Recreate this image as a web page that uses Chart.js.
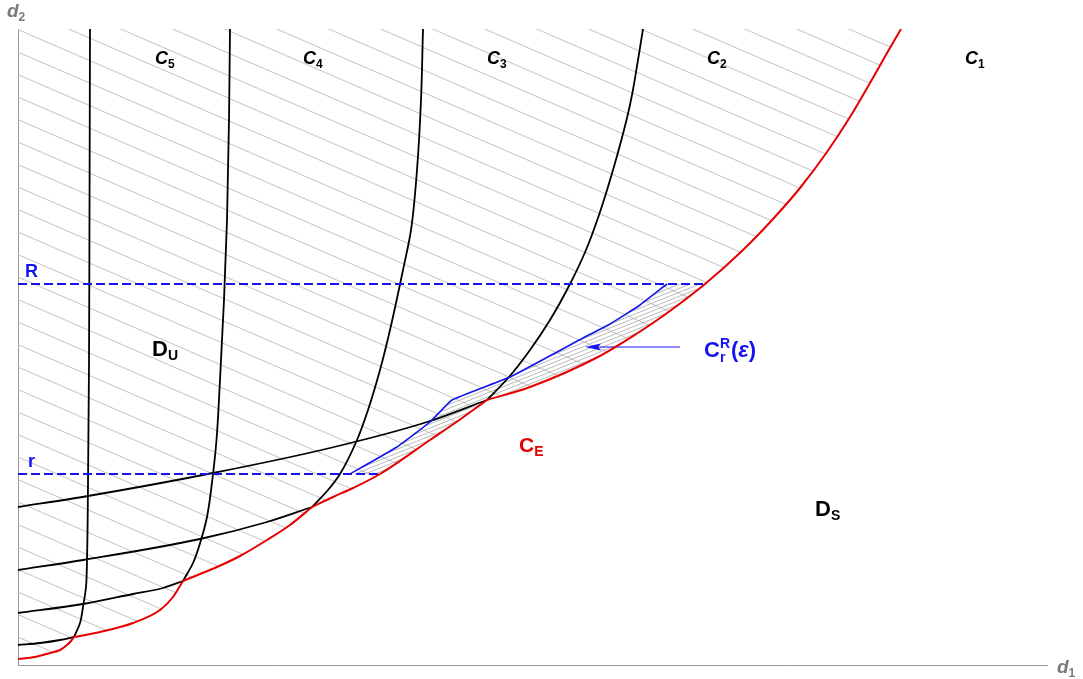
<!DOCTYPE html>
<html>
<head>
<meta charset="utf-8">
<script src="https://cdn.jsdelivr.net/npm/chart.js@4.4.1/dist/chart.umd.min.js"></script>
<style>
  html, body { margin: 0; padding: 0; background: #fff; }
  #wrap { width: 1083px; height: 679px; }
</style>
</head>
<body>
<div id="wrap"><canvas id="plane" width="1083" height="679"></canvas></div>
<script>
// boundary C_E between the stable and unstable domains
const ceCurve = [
  [0, 0.06], [0.17, 0.08], [0.32, 0.12], [0.42, 0.15], [0.49, 0.20], [0.53, 0.24], [0.56, 0.28],
  [0.82, 0.33], [1.15, 0.42], [1.42, 0.55], [1.55, 0.68], [1.65, 0.84],
  [1.82, 0.91], [1.99, 0.98], [2.22, 1.09], [2.49, 1.25], [2.72, 1.40], [2.94, 1.58],
  [3.15, 1.68], [3.35, 1.77], [3.62, 1.91], [4.12, 2.25], [4.42, 2.455], [4.69, 2.65],
  [5.12, 2.78], [5.79, 3.075], [6.19, 3.315], [6.45, 3.49], [6.87, 3.81],
  [7.25, 4.15], [7.55, 4.46], [7.82, 4.77], [8.09, 5.13], [8.32, 5.48], [8.52, 5.82], [8.69, 6.12], [8.83, 6.36]
];
// corners of C_E where a branch joins it
const ceKinks = [0.56, 1.65, 2.94, 4.69];

// near-vertical branches C5..C2
const c5 = [[0.72, 6.36], [0.715, 4.5], [0.71, 3.0], [0.70, 1.8], [0.69, 1.05], [0.68, 0.78], [0.65, 0.58], [0.62, 0.42], [0.56, 0.28]];
const c4 = [[2.12, 6.36], [2.11, 5.45], [2.09, 4.45], [2.06, 3.65], [2.02, 2.85], [1.985, 2.25], [1.95, 1.91], [1.89, 1.48], [1.83, 1.25], [1.75, 1.02], [1.65, 0.84]];
const c3 = [[4.05, 6.36], [4.03, 5.65], [3.99, 4.95], [3.93, 4.35], [3.85, 3.95], [3.72, 3.35], [3.62, 2.95], [3.50, 2.55], [3.39, 2.25], [3.22, 1.91], [3.10, 1.75], [2.94, 1.58]];
const c2 = [[6.25, 6.36], [6.20, 6.05], [6.14, 5.70], [6.09, 5.47], [5.95, 4.95], [5.81, 4.50], [5.68, 4.15], [5.52, 3.81], [5.32, 3.45], [5.12, 3.15], [4.91, 2.88], [4.69, 2.65]];

// branches coming in from the d2 axis
const h1 = [[0, 0.20], [0.22, 0.22], [0.42, 0.25], [0.56, 0.28]];
const h2 = [[0, 0.52], [0.65, 0.61], [1.15, 0.71], [1.45, 0.77], [1.65, 0.84]];
const h3 = [[0, 0.95], [0.65, 1.05], [1.82, 1.26], [2.49, 1.43], [2.94, 1.58]];
const h4 = [[0, 1.58], [0.70, 1.69], [1.95, 1.92], [3.12, 2.17], [4.09, 2.43], [4.69, 2.65]];

// C_r^R(eps) and the two levels r, R
const blueCurve = [[3.32, 1.91], [3.79, 2.18], [4.12, 2.43], [4.34, 2.65], [4.92, 2.88], [5.65, 3.27], [5.92, 3.41], [6.22, 3.60], [6.49, 3.81]];
const levelR = [[0, 3.81], [6.87, 3.81]];
const levelr = [[0, 1.91], [3.62, 1.91]];
const arrow = [[6.62, 3.18], [5.75, 3.18]];

const pts = (a) => a.map(([x, y]) => ({ x, y }));

// strip between C_r^R(eps) and C_E, closed along the two levels
const strip = blueCurve
  .concat([levelR[1]])
  .concat(ceCurve.filter(([x]) => x >= levelr[1][0] && x <= levelR[1][0]).reverse());

// C_E cut at its corners so each smooth piece is splined on its own
const cePieces = [];
{
  let cur = [];
  ceCurve.forEach((p) => {
    cur.push(p);
    if (ceKinks.includes(p[0])) {
      cePieces.push(cur);
      cur = [p];
    }
  });
  cePieces.push(cur);
}

const helper = document.createElement("canvas").getContext("2d");

const lightHatch = (() => {
  const c = document.createElement("canvas");
  c.width = 104;
  c.height = 45;
  const g = c.getContext("2d");
  g.strokeStyle = "#c2c2c2";
  g.lineWidth = 1;
  const s = 45 / 104;
  [-0.7, 21.8].forEach((b) => {
    [-45, 0, 45].forEach((k) => {
      g.beginPath();
      g.moveTo(-5, b + k - 5 * s);
      g.lineTo(109, b + k + 109 * s);
      g.stroke();
    });
  });
  return helper.createPattern(c, "repeat");
})();

const denseHatch = (() => {
  const c = document.createElement("canvas");
  c.width = 20;
  c.height = 8;
  const g = c.getContext("2d");
  g.strokeStyle = "#a8a8a8";
  g.lineWidth = 0.8;
  const s = -8 / 20;
  [0, 4].forEach((b) => {
    [-8, 0, 8, 16].forEach((k) => {
      g.beginPath();
      g.moveTo(-5, b + k - 5 * s);
      g.lineTo(25, b + k + 25 * s);
      g.stroke();
    });
  });
  return helper.createPattern(c, "repeat");
})();

const arrowHead = (() => {
  const c = document.createElement("canvas");
  c.width = 16;
  c.height = 8;
  const g = c.getContext("2d");
  g.fillStyle = "#1414f0";
  g.beginPath();
  g.moveTo(0, 4);
  g.lineTo(16, 0.5);
  g.lineTo(13, 4);
  g.lineTo(16, 7.5);
  g.closePath();
  g.fill();
  return c;
})();

const BLUE = "#1414f0";
const RED = "#e60000";
const FONT = '"Liberation Sans", Arial, sans-serif';

// text labels; runs with stack:true start where the previous run started
const labels = [
  { x: 1.37, y: 6.01, color: "#000", runs: [{ t: "C", size: 18, italic: true }, { t: "5", size: 12, dy: 4 }] },
  { x: 2.85, y: 6.01, color: "#000", runs: [{ t: "C", size: 18, italic: true }, { t: "4", size: 12, dy: 4 }] },
  { x: 4.69, y: 6.01, color: "#000", runs: [{ t: "C", size: 18, italic: true }, { t: "3", size: 12, dy: 4 }] },
  { x: 6.89, y: 6.01, color: "#000", runs: [{ t: "C", size: 18, italic: true }, { t: "2", size: 12, dy: 4 }] },
  { x: 9.47, y: 6.01, color: "#000", runs: [{ t: "C", size: 18, italic: true }, { t: "1", size: 12, dy: 4 }] },
  { x: 1.34, y: 3.09, color: "#000", runs: [{ t: "D", size: 22 }, { t: "U", size: 14, dy: 4 }] },
  { x: 7.97, y: 1.49, color: "#000", runs: [{ t: "D", size: 22 }, { t: "S", size: 14, dy: 4 }] },
  { x: 5.01, y: 2.13, color: RED, runs: [{ t: "C", size: 21 }, { t: "E", size: 14, dy: 4 }] },
  { x: 0.07, y: 3.88, color: BLUE, runs: [{ t: "R", size: 18 }] },
  { x: 0.10, y: 1.98, color: BLUE, runs: [{ t: "r", size: 18 }] },
  {
    x: 6.86, y: 3.08, color: BLUE,
    runs: [
      { t: "C", size: 22 },
      { t: "R", size: 14, dy: -9 },
      { t: "r", size: 14, dy: 5, stack: true },
      { t: "(", size: 22, gap: 1 },
      { t: "ε", size: 22, italic: true },
      { t: ")", size: 22 },
    ],
  },
  { x: -0.11, y: 6.48, color: "#7a7a7a", runs: [{ t: "d", size: 19, italic: true }, { t: "2", size: 12, dy: 4 }] },
  { x: 10.39, y: -0.08, color: "#7a7a7a", runs: [{ t: "d", size: 19, italic: true }, { t: "1", size: 12, dy: 4 }] },
];

const labelPlugin = {
  id: "planeLabels",
  afterDatasetsDraw(chart) {
    const { ctx, scales } = chart;
    ctx.save();
    ctx.textBaseline = "alphabetic";
    labels.forEach((lab) => {
      let cursor = scales.x.getPixelForValue(lab.x);
      const base = scales.y.getPixelForValue(lab.y);
      let lastStart = cursor;
      ctx.fillStyle = lab.color;
      lab.runs.forEach((run) => {
        ctx.font = `${run.italic ? "italic " : ""}bold ${run.size}px ${FONT}`;
        const start = run.stack ? lastStart : cursor + (run.gap || 0);
        ctx.fillText(run.t, start, base + (run.dy || 0));
        cursor = Math.max(cursor, start + ctx.measureText(run.t).width);
        lastStart = start;
      });
    });
    ctx.restore();
  },
};

const curve = (data, color, width, extra) =>
  Object.assign(
    {
      data: pts(data),
      borderColor: color,
      borderWidth: width,
      pointRadius: 0,
      fill: false,
      cubicInterpolationMode: "monotone",
      order: 2,
    },
    extra || {}
  );

// straight pieces, no spline
const flat = { cubicInterpolationMode: "default", tension: 0 };

// the C_k branches are single-valued in d2, so they are splined along y
const branch = (data) => curve(data, "#000", 1.8, { indexAxis: "y" });

new Chart(document.getElementById("plane"), {
  type: "line",
  data: {
    datasets: [
      // hatched unstable domain above C_E
      curve(ceCurve, "rgba(0,0,0,0)", 0, { ...flat, fill: "end", backgroundColor: lightHatch, order: 10 }),
      curve(strip, "rgba(0,0,0,0)", 0, { ...flat, fill: "shape", backgroundColor: denseHatch, order: 9 }),
      branch(c5),
      branch(c4),
      branch(c3),
      branch(c2),
      curve(h1, "#000", 1.8),
      curve(h2, "#000", 1.8),
      curve(h3, "#000", 1.8),
      curve(h4, "#000", 1.8),
      curve(levelR, BLUE, 2, { ...flat, borderDash: [9, 4], order: 1 }),
      curve(levelr, BLUE, 2, { ...flat, borderDash: [9, 4], order: 1 }),
      curve(blueCurve, BLUE, 1.6, { cubicInterpolationMode: "default", tension: 0.1, order: 1 }),
      ...cePieces.map((piece) => curve(piece, RED, 2, { order: 0 })),
      curve(arrow, BLUE, 1.2, { ...flat, pointRadius: [0, 8], pointStyle: arrowHead, order: 0 }),
    ],
  },
  options: {
    responsive: false,
    devicePixelRatio: 1,
    animation: false,
    layout: { padding: { left: 18, right: 36, top: 29, bottom: 14 } },
    plugins: {
      legend: { display: false },
      tooltip: { enabled: false },
      filler: { drawTime: "beforeDatasetsDraw" },
    },
    scales: {
      x: {
        type: "linear",
        min: 0,
        max: 10.29,
        grid: { display: false, drawTicks: false },
        ticks: { display: false },
        border: { color: "#999", width: 1 },
      },
      y: {
        type: "linear",
        min: 0,
        max: 6.36,
        grid: { display: false, drawTicks: false },
        ticks: { display: false },
        border: { color: "#999", width: 1 },
      },
    },
  },
  plugins: [labelPlugin],
});
</script>
</body>
</html>
